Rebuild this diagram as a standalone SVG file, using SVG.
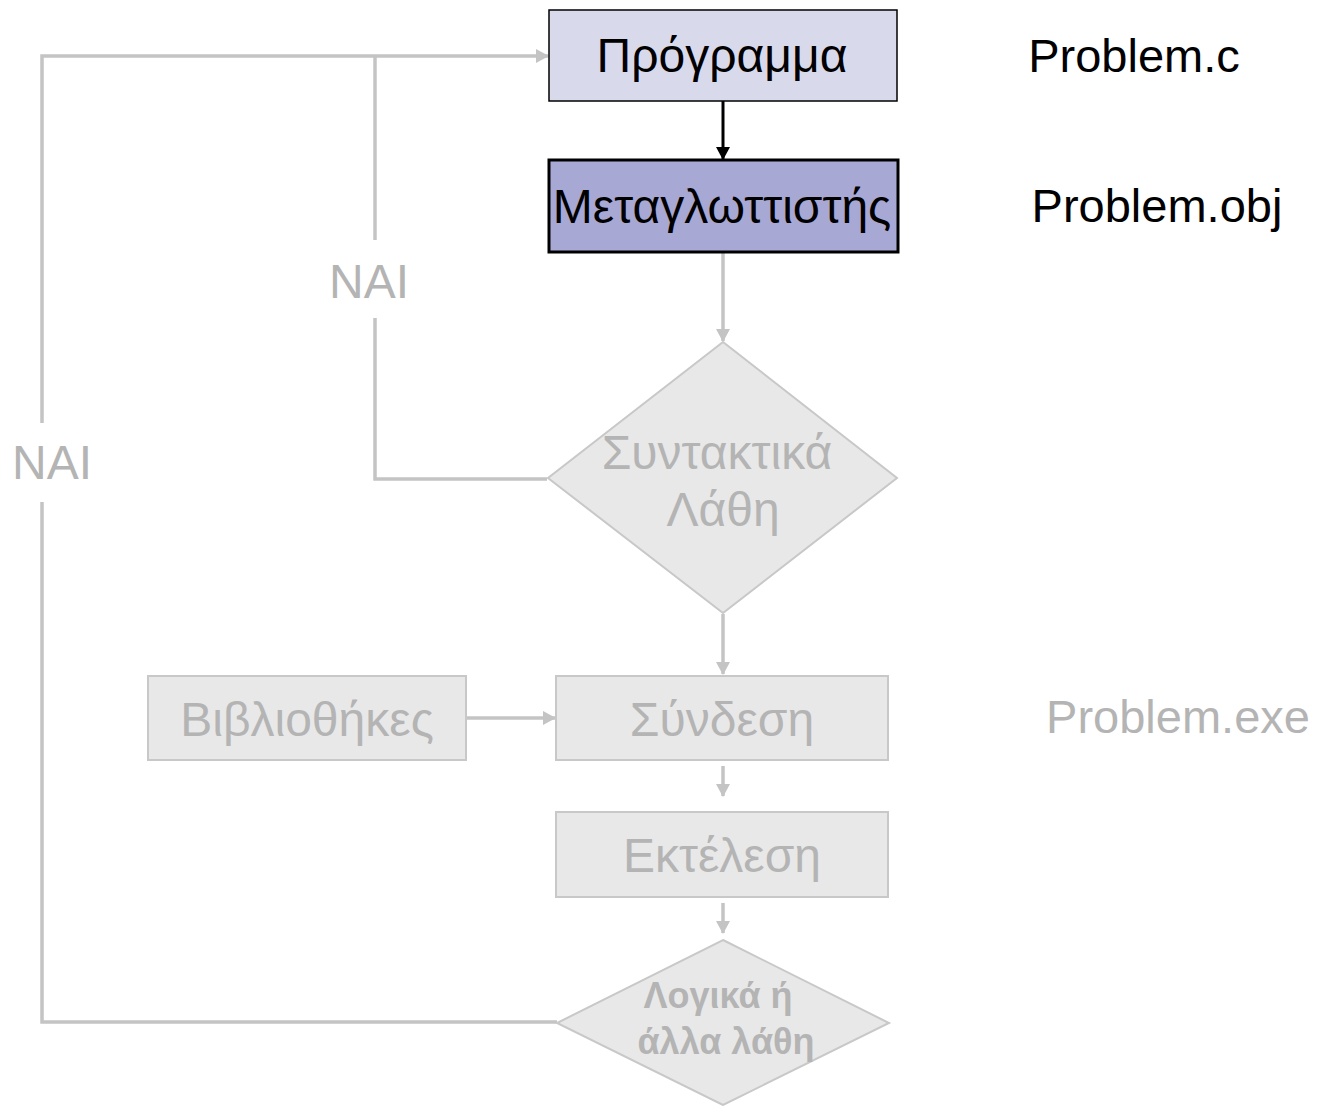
<svg xmlns="http://www.w3.org/2000/svg" width="1317" height="1106" viewBox="0 0 1317 1106">
<style>
text{font-family:"Liberation Sans",Arial,sans-serif;font-size:48px;text-anchor:middle}
.dark{fill:#000}
.grey{fill:#b4b4b4}
.gbox{fill:#e8e8e8;stroke:#c8c8c8;stroke-width:2}
.gline{fill:none;stroke:#c4c4c4;stroke-width:3.5}
.bline{fill:none;stroke:#000;stroke-width:3}
.small{font-size:36px;font-weight:bold}
.file{font-size:47px}
</style>
<defs>
<marker id="ga" markerWidth="14" markerHeight="14" refX="12" refY="7" orient="auto" markerUnits="userSpaceOnUse"><path d="M0,0 L13,7 L0,14 z" fill="#c4c4c4"/></marker>
<marker id="ba" markerWidth="14" markerHeight="14" refX="12" refY="7" orient="auto" markerUnits="userSpaceOnUse"><path d="M0,0 L13,7 L0,14 z" fill="#000"/></marker>
</defs>
<rect width="1317" height="1106" fill="#fff"/>
<g id="connectors">
<line class="bline" x1="723" y1="101" x2="723" y2="159" marker-end="url(#ba)"/>
<line class="gline" x1="723" y1="253" x2="723" y2="341" marker-end="url(#ga)"/>
<line class="gline" x1="723" y1="614" x2="723" y2="674" marker-end="url(#ga)"/>
<line class="gline" x1="467" y1="718" x2="555" y2="718" marker-end="url(#ga)"/>
<line class="gline" x1="723" y1="766" x2="723" y2="796" marker-end="url(#ga)"/>
<line class="gline" x1="723" y1="903" x2="723" y2="933" marker-end="url(#ga)"/>
<polyline class="gline" points="547,479 375,479 375,318"/>
<line class="gline" x1="375" y1="240" x2="375" y2="56"/>
<polyline class="gline" points="557,1022 42,1022 42,502"/>
<polyline class="gline" points="42,423 42,56 548,56" marker-end="url(#ga)"/>
<text class="grey" x="369" y="298">NAI</text>
<text class="grey" x="52" y="479">NAI</text>
</g>
<g id="programma">
<rect x="549" y="10" width="348" height="91" fill="#d9d9ec" stroke="#000" stroke-width="1.5"/>
<text class="dark" x="722" y="72">Πρόγραμμα</text>
</g>
<g id="metaglottistis">
<rect x="549" y="160" width="349" height="92" fill="#a8a8d4" stroke="#000" stroke-width="3"/>
<text class="dark" x="722" y="223">Μεταγλωττιστής</text>
</g>
<g id="syntaktika">
<polygon class="gbox" points="723,342 897,478 723,613 548,478"/>
<text class="grey" x="717" y="469">Συντακτικά</text>
<text class="grey" x="723" y="526">Λάθη</text>
</g>
<g id="vivliothikes">
<rect class="gbox" x="148" y="676" width="318" height="84"/>
<text class="grey" x="307" y="736">Βιβλιοθήκες</text>
</g>
<g id="syndesi">
<rect class="gbox" x="556" y="676" width="332" height="84"/>
<text class="grey" x="722" y="736">Σύνδεση</text>
</g>
<g id="ektelesi">
<rect class="gbox" x="556" y="812" width="332" height="85"/>
<text class="grey" x="722" y="872">Εκτέλεση</text>
</g>
<g id="logika">
<polygon class="gbox" points="723,940 889,1023 723,1105 557,1023"/>
<text class="grey small" x="718" y="1008">Λογικά ή</text>
<text class="grey small" x="726" y="1054">άλλα λάθη</text>
</g>
<g id="files">
<text class="dark file" x="1134" y="72">Problem.c</text>
<text class="dark file" x="1157" y="222">Problem.obj</text>
<text class="grey file" x="1178" y="733">Problem.exe</text>
</g>
</svg>
